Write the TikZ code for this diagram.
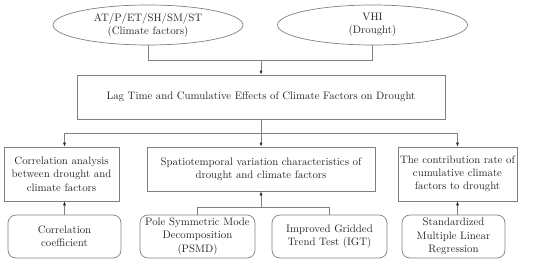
\documentclass[tikz,border=0pt]{standalone}
\usepackage{tikz}
\usetikzlibrary{arrows.meta,shapes.geometric}

\begin{document}
\begin{tikzpicture}[x=1pt,y=-1pt,
  every node/.style={font=\fontsize{10.8}{13.3}\selectfont,align=center,text=black!85},
  line/.style={draw=black!50,line width=0.7pt},
  arr/.style={line,-{Latex[black!85,length=4pt,width=3pt]}},
  factor/.style={ellipse,line,minimum width=190pt,minimum height=40pt,inner sep=0pt},
  topic/.style={rectangle,line,minimum height=44pt,inner sep=1pt},
  method/.style={rectangle,rounded corners=8pt,line,minimum height=43pt,inner sep=1pt}]
\useasboundingbox (0,0) rectangle (550,263);
% inputs
\node[factor] (clim) at (148,25) {AT/P/ET/SH/SM/ST\\(Climate factors)};
\node[factor] (vhi) at (372.5,25) {VHI\\(Drought)};
% main question
\node[topic,minimum width=368pt] (lag) at (261,97) {Lag Time and Cumulative Effects of Climate Factors on Drought};
% three branches
\node[topic,minimum width=115pt,minimum height=54pt] (corr) at (61.5,174) {Correlation analysis\\between drought and\\climate factors};
\node[topic,minimum width=228pt] (spat) at (261,169) {Spatiotemporal variation characteristics of\\drought and climate factors};
\node[topic,minimum width=119pt,minimum height=54pt] (contrib) at (457.5,174) {The contribution rate of\\cumulative climate\\factors to drought};
% methods
\node[method,minimum width=113pt] (coef) at (64.5,236.5) {Correlation\\coefficient};
\node[method,minimum width=115pt] (psmd) at (197.5,236.5) {Pole Symmetric Mode\\Decomposition\\(PSMD)};
\node[method,minimum width=115pt] (igt) at (329.5,236.5) {Improved Gridded\\Trend Test (IGT)};
\node[method,minimum width=103pt] (smlr) at (453.5,236.5) {Standardized\\Multiple Linear\\Regression};
% joints
\coordinate (join) at (261,60);
\coordinate (split) at (261,133);
\coordinate (merge) at (261,207);
% connectors
\draw[line] (clim.south) |- (join);
\draw[line] (vhi.south) |- (join);
\draw[arr] (join) -- (lag.north);
\draw[line] (lag.south) -- (split);
\draw[arr] (split) -| (coef.north |- corr.north);
\draw[arr] (split) -- (spat.north);
\draw[arr] (split) -| (contrib.north);
\draw[arr] (coef.north) -- (coef.north |- corr.south);
\draw[line] (psmd.north) |- (merge);
\draw[line] (igt.north) |- (merge);
\draw[arr] (merge) -- (spat.south);
\draw[arr] (contrib.south |- smlr.north) -- (contrib.south);
\end{tikzpicture}
\end{document}
